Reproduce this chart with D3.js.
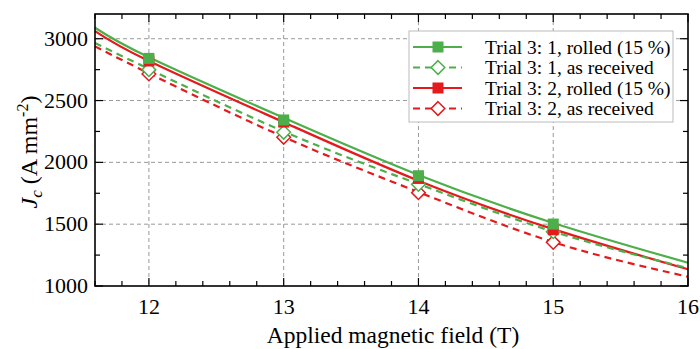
<!DOCTYPE html>
<html><head><meta charset="utf-8">
<script src="https://cdn.jsdelivr.net/npm/d3@7"></script>
</head><body style="margin:0">
<svg id="c" width="700" height="349"></svg>
<script>
// Measured points
const fields = [12, 13, 14, 15];
const t1Rolled = [2841, 2343, 1892, 1501];
const t1AsRec = [2750, 2243, 1822, 1439];
const t2Rolled = [2820, 2326, 1870, 1455];
const t2AsRec = [2715, 2203, 1755, 1353];
// Fit curves
const fitFields = [11.6, 12, 13, 14, 15, 16];
const t1RolledFit = [3089, 2850, 2360, 1898, 1510, 1188];
const t1AsRecFit = [2965, 2755, 2250, 1825, 1440, 1145];
const t2RolledFit = [3062, 2820, 2325, 1852, 1460, 1135];
const t2AsRecFit = [2938, 2720, 2205, 1760, 1355, 1075];
const labels = ["Trial 3: 1, rolled (15 %)", "Trial 3: 1, as received", "Trial 3: 2, rolled (15 %)", "Trial 3: 2, as received"];
const xTicks = [12, 13, 14, 15, 16];
const yTicks = [1000, 1500, 2000, 2500, 3000];

const GREEN = "#4daf4a", RED = "#e41a1c";
const series = [
  {name: labels[0], pts: t1Rolled, fit: t1RolledFit, color: GREEN, dashed: false, marker: "square"},
  {name: labels[1], pts: t1AsRec, fit: t1AsRecFit, color: GREEN, dashed: true, marker: "diamond"},
  {name: labels[2], pts: t2Rolled, fit: t2RolledFit, color: RED, dashed: false, marker: "square"},
  {name: labels[3], pts: t2AsRec, fit: t2AsRecFit, color: RED, dashed: true, marker: "diamond"}
];

const svg = d3.select("#c");
const L = 95, R = 688, T = 14, B = 286;
const x = d3.scaleLinear().domain([11.6, 16]).range([L, R]);
const y = d3.scaleLinear().domain([1000, 3200]).range([B, T]);

function txt(sel, size) {
  return sel.style("font-family", '"Liberation Serif"').style("font-size", size + "px");
}

// grid
const g = svg.append("g");
g.selectAll("line.gx").data(xTicks.filter(d => d < 16)).join("line")
  .attr("x1", d => x(d)).attr("x2", d => x(d)).attr("y1", T).attr("y2", B)
  .attr("stroke", "#999").attr("stroke-width", 1).attr("stroke-dasharray", "4,3");
g.selectAll("line.gy").data(yTicks.filter(d => d > 1000)).join("line")
  .attr("y1", d => y(d)).attr("y2", d => y(d)).attr("x1", L).attr("x2", R)
  .attr("stroke", "#999").attr("stroke-width", 1).attr("stroke-dasharray", "4,3");

// fit lines (red first so green is on top)
const line = d3.line().x(d => x(d[0])).y(d => y(d[1])).curve(d3.curveNatural);
[2, 3, 0, 1].forEach(i => {
  const s = series[i];
  svg.append("path").datum(fitFields.map((f, k) => [f, s.fit[k]]))
    .attr("d", line).attr("fill", "none").attr("stroke", s.color)
    .attr("stroke-width", 2.2).attr("stroke-dasharray", s.dashed ? "7,5" : null);
});

function drawMarker(sel, type, color, size) {
  if (type === "square") {
    sel.append("rect").attr("x", -size / 2).attr("y", -size / 2).attr("width", size).attr("height", size)
      .attr("fill", color);
  } else {
    const h = size * 0.62;
    sel.append("path").attr("d", `M0,${-h}L${h},0L0,${h}L${-h},0Z`)
      .attr("fill", "#fff").attr("stroke", color).attr("stroke-width", 1.5);
  }
}
[3, 1, 2, 0].forEach(i => {
  const s = series[i];
  fields.forEach((f, k) => {
    const m = svg.append("g").attr("transform", `translate(${x(f)},${y(s.pts[k])})`);
    drawMarker(m, s.marker, s.color, 11);
  });
});

// axes: ticks inside on all sides
const ax = svg.append("g").attr("stroke", "#000");
d3.range(11.6, 16.001, 0.2).map(v => +v.toFixed(1)).forEach(v => {
  const major = Math.abs(v - Math.round(v)) < 1e-6;
  const len = major ? 8 : 5;
  ax.append("line").attr("x1", x(v)).attr("x2", x(v)).attr("y1", B).attr("y2", B - len).attr("stroke-width", 1.2);
  ax.append("line").attr("x1", x(v)).attr("x2", x(v)).attr("y1", T).attr("y2", T + len).attr("stroke-width", 1.2);
});
d3.range(1000, 3201, 250).forEach(v => {
  const major = v % 500 === 0;
  const len = major ? 8 : 5;
  ax.append("line").attr("y1", y(v)).attr("y2", y(v)).attr("x1", L).attr("x2", L + len).attr("stroke-width", 1.2);
  ax.append("line").attr("y1", y(v)).attr("y2", y(v)).attr("x1", R).attr("x2", R - len).attr("stroke-width", 1.2);
});
svg.append("rect").attr("x", L).attr("y", T).attr("width", R - L).attr("height", B - T)
  .attr("fill", "none").attr("stroke", "#000").attr("stroke-width", 1.6);

// tick labels
txt(svg.selectAll("text.xt").data(xTicks).join("text")
  .attr("x", d => x(d)).attr("y", 314).attr("text-anchor", "middle"), 22).text(d => String(d));
txt(svg.selectAll("text.yt").data(yTicks).join("text")
  .attr("x", 88).attr("y", d => y(d) + 7).attr("text-anchor", "end"), 22).text(d => String(d));

// axis titles
txt(svg.append("text").attr("x", 393).attr("y", 343).attr("text-anchor", "middle"), 23.5)
  .text("Applied magnetic field (T)");
const yl = txt(svg.append("text").attr("transform", `translate(37,152) rotate(-90)`)
  .attr("text-anchor", "middle"), 24);
yl.append("tspan").style("font-style", "italic").text("J");
yl.append("tspan").style("font-style", "italic").style("font-size", "17px").attr("dy", 5).text("c");
yl.append("tspan").attr("dy", -5).text(" (A mm");
yl.append("tspan").style("font-size", "16px").attr("dy", -9).text("-2");
yl.append("tspan").attr("dy", 9).text(")");

// legend
const leg = svg.append("g");
leg.append("rect").attr("x", 409).attr("y", 31).attr("width", 264).attr("height", 91)
  .attr("fill", "#fff").attr("stroke", "#bbb").attr("stroke-width", 1);
series.forEach((s, i) => {
  const cy = 47 + i * 20.5;
  leg.append("line").attr("x1", 413).attr("x2", 462).attr("y1", cy).attr("y2", cy)
    .attr("stroke", s.color).attr("stroke-width", 2.2).attr("stroke-dasharray", s.dashed ? "7,5" : null);
  const m = leg.append("g").attr("transform", `translate(438,${cy})`);
  drawMarker(m, s.marker, s.color, 11);
  txt(leg.append("text").attr("x", 485).attr("y", cy + 6.5), 19.5).text(s.name);
});
</script>
</body></html>
